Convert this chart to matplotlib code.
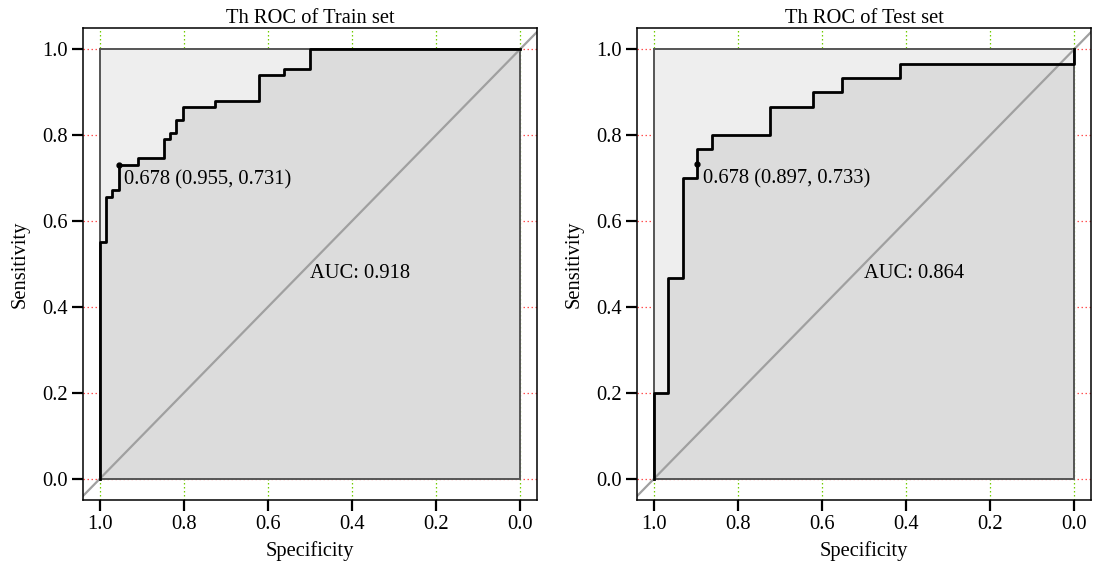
#!/usr/bin/env python3

import matplotlib
matplotlib.use('Agg')
import matplotlib.pyplot as plt
from matplotlib.patches import Rectangle

plt.rcParams['font.family'] = ['Liberation Serif', 'DejaVu Serif']

# ROC step points (specificity, sensitivity)
train_spec = [1.0, 1.0, 0.985, 0.985, 0.970, 0.970, 0.955, 0.955, 0.909, 0.909,
              0.848, 0.848, 0.833, 0.833, 0.818, 0.818, 0.803, 0.803, 0.727, 0.727,
              0.621, 0.621, 0.561, 0.561, 0.5, 0.5, 0.0]
train_sens = [0.0, 0.552, 0.552, 0.657, 0.657, 0.672, 0.672, 0.731, 0.731, 0.746,
              0.746, 0.791, 0.791, 0.806, 0.806, 0.836, 0.836, 0.866, 0.866, 0.881,
              0.881, 0.940, 0.940, 0.955, 0.955, 1.0, 1.0]

test_spec = [1.0, 1.0, 0.966, 0.966, 0.931, 0.931, 0.897, 0.897, 0.862, 0.862,
             0.724, 0.724, 0.621, 0.621, 0.552, 0.552, 0.414, 0.414, 0.0, 0.0]
test_sens = [0.0, 0.2, 0.2, 0.467, 0.467, 0.7, 0.7, 0.767, 0.767, 0.8,
             0.8, 0.867, 0.867, 0.9, 0.9, 0.933, 0.933, 0.967, 0.967, 1.0]

train_thres = (0.955, 0.731, '0.678 (0.955, 0.731)')
test_thres = (0.897, 0.733, '0.678 (0.897, 0.733)')
train_auc = 'AUC: 0.918'
test_auc = 'AUC: 0.864'

ticks = [0.0, 0.2, 0.4, 0.6, 0.8, 1.0]
FS = 14.8


def plot_roc(ax, spec, sens, thres, auc_text, title):
    ax.set_xlim(1.04, -0.04)
    ax.set_ylim(-0.05, 1.05)
    ax.set_xticks(ticks)
    ax.set_yticks(ticks)
    ax.set_xticklabels([f'{t:.1f}' for t in ticks])
    ax.set_yticklabels([f'{t:.1f}' for t in ticks])
    ax.tick_params(direction='out', length=8, width=1.6, labelsize=FS, pad=3)
    for s in ax.spines.values():
        s.set_linewidth(1.1)

    # grid lines, hidden by the polygons inside the unit square
    for t in ticks:
        ax.axhline(t, color='#ff5050', ls=(0, (1.2, 2)), lw=0.9, zorder=0.5)
        ax.axvline(t, color='#70cc00', ls=(0, (1.2, 2)), lw=0.9, zorder=0.5)

    ax.add_patch(Rectangle((0, 0), 1, 1, facecolor='#eeeeee', edgecolor='none', zorder=1))
    ax.fill_between(spec, sens, 0, facecolor='#dcdcdc', edgecolor='none', zorder=1.5)
    ax.add_patch(Rectangle((0, 0), 1, 1, facecolor='none', edgecolor='#555555',
                           lw=1.4, zorder=1.7))
    ax.axline((1, 0), (0, 1), color='#a0a0a0', lw=1.6, zorder=2)
    ax.plot(spec, sens, color='black', lw=2.0, zorder=3)

    x, y, label = thres
    ax.plot([x], [y], 'o', color='black', ms=3.5, zorder=4)
    ax.annotate(label, (x, y), xytext=(4, -4), textcoords='offset points',
                ha='left', va='top', fontsize=FS, zorder=5)
    ax.text(0.5, 0.5, auc_text, ha='left', va='top', fontsize=FS, zorder=5)

    ax.set_title(title, fontsize=FS, pad=2)
    ax.set_xlabel('Specificity', fontsize=FS, labelpad=5)
    ax.set_ylabel('Sensitivity', fontsize=FS, labelpad=9)


def main():
    fig = plt.figure(figsize=(10.93, 5.71), dpi=100)
    ax1 = fig.add_axes([0.076, 0.124, 0.415, 0.827])
    ax2 = fig.add_axes([0.583, 0.124, 0.415, 0.827])
    plot_roc(ax1, train_spec, train_sens, train_thres, train_auc, 'Th ROC of Train set')
    plot_roc(ax2, test_spec, test_sens, test_thres, test_auc, 'Th ROC of Test set')
    fig.savefig('out.png', dpi=100)


if __name__ == "__main__":
    main()
